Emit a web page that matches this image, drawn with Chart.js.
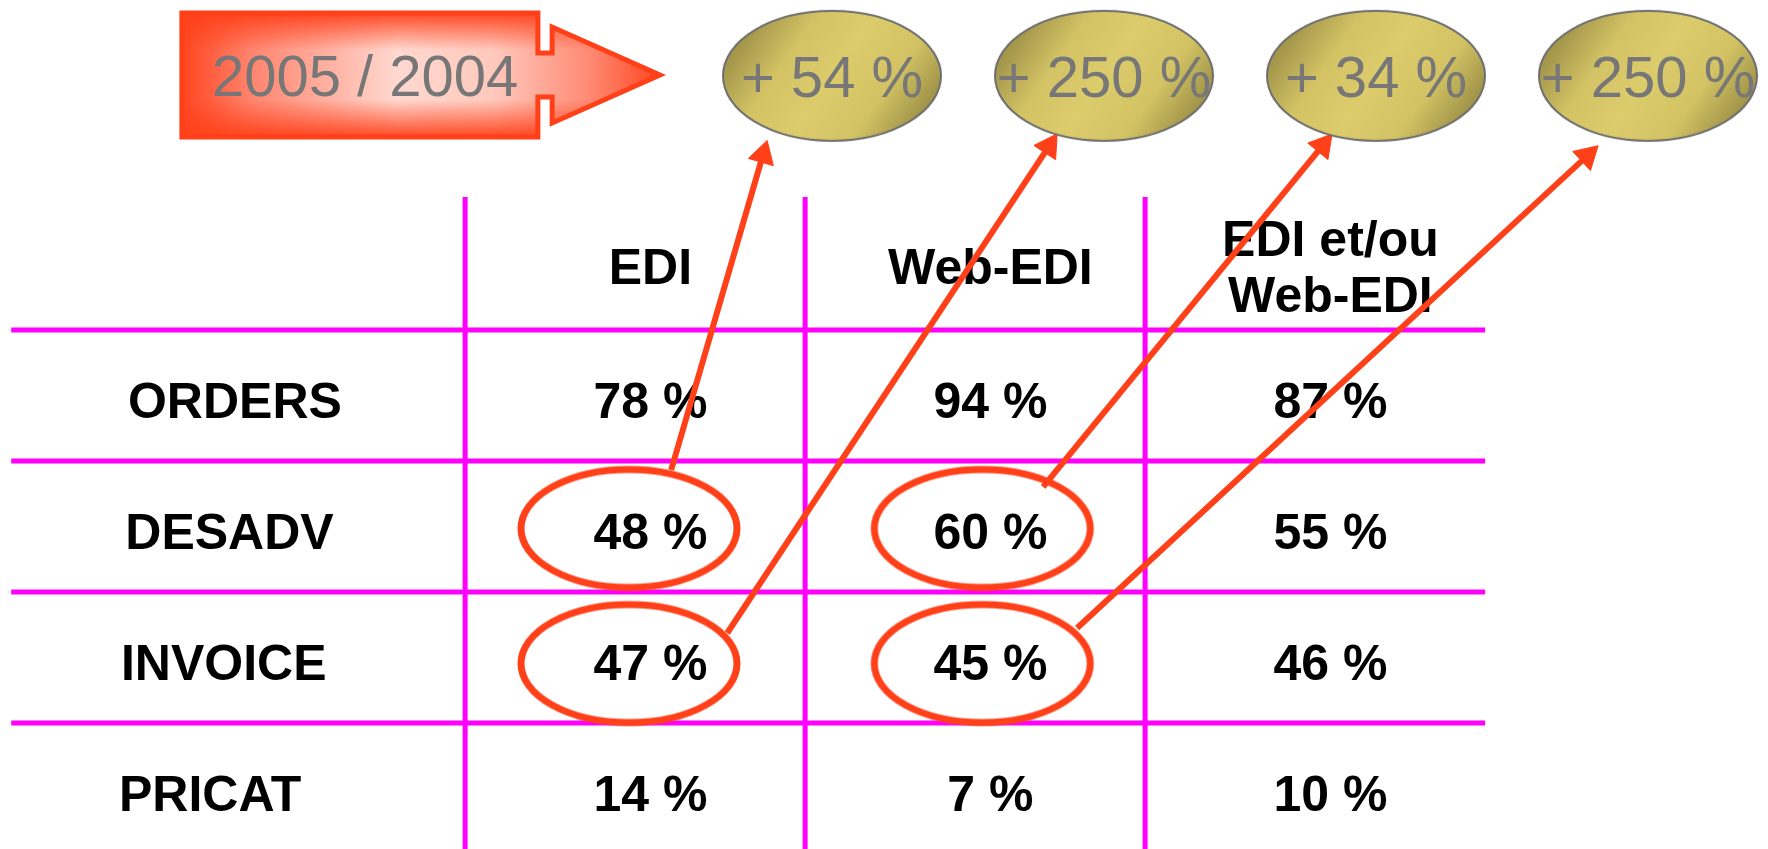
<!DOCTYPE html>
<html>
<head>
<meta charset="utf-8">
<script src="https://cdn.jsdelivr.net/npm/chart.js@4.4.1/dist/chart.umd.min.js"></script>
<style>
html, body { margin: 0; padding: 0; background: #fff; }
canvas { display: block; }
</style>
</head>
<body>
<canvas id="edi-canvas" width="1768" height="849"></canvas>
<script>
// table content
const columns = [['EDI'], ['Web-EDI'], ['EDI et/ou', 'Web-EDI']];
const messages = ['ORDERS', 'DESADV', 'INVOICE', 'PRICAT'];
const ediValues = [78, 48, 47, 14];
const webEdiValues = [94, 60, 45, 7];
const bothValues = [87, 55, 46, 10];

// growth 2005 / 2004, and the circled cell [row, column] each one comes from
const period = '2005 / 2004';
const growthValues = [54, 250, 34, 250];
const growthFrom = [[1, 0], [2, 0], [1, 1], [2, 1]];

// layout, in scale units (1 column = 1 unit on x, 1 row = 1 unit on y)
const X_MIN = -1.368, X_MAX = 3.832, Y_MIN = -1.519, Y_MAX = 4.962;
const colEdges = [0, 1, 2];
const rowEdges = [1, 2, 3, 4];
const tableLeft = -1.335, tableRight = 3, tableTop = -0.015;
const labelX = -0.71, textShift = 0.045;
const labelShift = [0.033, 0.017, 0, -0.04];
const ringShift = [[-0.018, 0.015], [-0.018, 0.046], [0.021, 0.015], [0.021, 0.046]];
const bubbleX0 = 1.079, bubbleStep = 0.8, bubbleY = -0.94;
const arrowTail = [[0.106, -0.431], [0.271, -0.187], [0.2, -0.302], [0.3, -0.225]];
const arrowHead = [[-0.203, 0.603], [-0.162, 0.538], [-0.157, 0.532], [-0.179, 0.611]];
const box = { x0: -0.833, x1: 0.214, x2: 0.256, tip: 0.573,
              y0: -1.42, y1: -0.473, s0: -1.114, s1: -0.779, h0: -1.313, h1: -0.58, mid: -0.946 };

const RED = '#FF4019';
const FONT = '"Liberation Sans", Arial, sans-serif';

function makeCanvas(w, h, draw) {
   const c = document.createElement('canvas');
   c.width = w; c.height = h;
   draw(c.getContext('2d'), w, h);
   return c;
}

const goldBubble = makeCanvas(224, 134, (g, w, h) => {
   const grad = g.createLinearGradient(15, 0, w - 15, h);
   grad.addColorStop(0, '#8A7E3D');
   grad.addColorStop(0.3, '#D3C365');
   grad.addColorStop(0.5, '#DCCC6C');
   grad.addColorStop(0.72, '#D3C364');
   grad.addColorStop(1, '#887C3B');
   g.beginPath();
   g.ellipse(w / 2, h / 2, 109, 65, 0, 0, Math.PI * 2);
   g.fillStyle = grad;
   g.fill();
   g.lineWidth = 2;
   g.strokeStyle = '#6F6F6F';
   g.stroke();
});

const redRing = makeCanvas(232, 138, (g, w, h) => {
   g.beginPath();
   g.ellipse(w / 2, h / 2, 108, 59, 0, 0, Math.PI * 2);
   g.lineWidth = 7;
   g.strokeStyle = RED;
   g.stroke();
});

function cellCenter(row, col) {
   return { x: col + 0.5, y: row + 1.5 };
}

function bubbleCenter(i) {
   return { x: bubbleX0 + i * bubbleStep, y: bubbleY };
}

// datasets: first in the list is drawn on top
let datasets = [];

datasets.push({
   data: growthValues.map((g, i) => bubbleCenter(i)),
   pointStyle: goldBubble,
   pointRadius: 10
});

growthFrom.forEach(([r, c], i) => {
   const from = cellCenter(r, c);
   const to = bubbleCenter(i);
   datasets.push({
      data: [
         { x: from.x + arrowTail[i][0], y: from.y + arrowTail[i][1] },
         { x: to.x + arrowHead[i][0], y: to.y + arrowHead[i][1] }
      ],
      showLine: true,
      borderColor: RED,
      borderWidth: 6,
      backgroundColor: RED,
      pointBorderColor: RED,
      pointBorderWidth: 1,
      pointStyle: 'triangle',
      pointRadius: (ctx) => ctx.dataIndex === 1 ? 15 : 0,
      pointRotation: (ctx) => {
         const d = ctx.dataset.data;
         const sx = ctx.chart.scales.x, sy = ctx.chart.scales.y;
         const dx = sx.getPixelForValue(d[1].x) - sx.getPixelForValue(d[0].x);
         const dy = sy.getPixelForValue(d[1].y) - sy.getPixelForValue(d[0].y);
         return Math.atan2(dx, -dy) * 180 / Math.PI;
      }
   });
});

datasets.push({
   data: growthFrom.map(([r, c], i) => {
      const p = cellCenter(r, c);
      return { x: p.x + ringShift[i][0], y: p.y + ringShift[i][1] };
   }),
   pointStyle: redRing,
   pointRadius: 10
});

for (const xe of colEdges) {
   datasets.push({ data: [{ x: xe, y: tableTop }, { x: xe, y: Y_MAX + 0.1 }],
      showLine: true, borderColor: '#FF00FF', borderWidth: 5, pointRadius: 0 });
}
for (const ye of rowEdges) {
   datasets.push({ data: [{ x: tableLeft, y: ye }, { x: tableRight, y: ye }],
      showLine: true, borderColor: '#FF00FF', borderWidth: 5, pointRadius: 0 });
}

// table text, under the arrows; period arrow and bubble text on top
const tableText = {
   id: 'tableText',
   beforeDatasetsDraw(chart) {
      const { ctx, scales: { x, y } } = chart;
      ctx.save();
      ctx.fillStyle = '#000';
      ctx.font = 'bold 50px ' + FONT;
      ctx.textAlign = 'center';
      ctx.textBaseline = 'alphabetic';

      columns.forEach((lines, c) => {
         const px = x.getPixelForValue(c + 0.5 + textShift);
         const py = y.getPixelForValue(0.5) + 2 + 18;
         const gap = 56;
         lines.forEach((t, k) => {
            ctx.fillText(t, px, py + (k - (lines.length - 1) / 2) * gap);
         });
      });

      const cols = [ediValues, webEdiValues, bothValues];
      messages.forEach((m, r) => {
         const py = y.getPixelForValue(r + 1.5) + 5 + 18;
         ctx.fillText(m, x.getPixelForValue(labelX + labelShift[r]), py);
         cols.forEach((vals, c) => {
            ctx.fillText(vals[r] + ' %', x.getPixelForValue(c + 0.5 + textShift), py);
         });
      });
      ctx.restore();
   },
   afterDatasetsDraw(chart) {
      const { ctx, scales: { x, y } } = chart;
      ctx.save();

      const pts = [
         [box.x0, box.y0], [box.x1, box.y0], [box.x1, box.s0], [box.x2, box.s0],
         [box.x2, box.h0], [box.tip, box.mid], [box.x2, box.h1], [box.x2, box.s1],
         [box.x1, box.s1], [box.x1, box.y1], [box.x0, box.y1]
      ].map(([a, b]) => [x.getPixelForValue(a), y.getPixelForValue(b)]);
      ctx.beginPath();
      pts.forEach(([a, b], i) => i ? ctx.lineTo(a, b) : ctx.moveTo(a, b));
      ctx.closePath();
      const left = pts[0][0], right = pts[5][0], top = pts[0][1], bottom = pts[9][1];
      const hg = ctx.createLinearGradient(left, 0, right, 0);
      hg.addColorStop(0, '#FF4520');
      hg.addColorStop(0.15, '#FF8670');
      hg.addColorStop(0.45, '#FFD8CF');
      hg.addColorStop(0.65, '#FFC9BD');
      hg.addColorStop(0.85, '#FF8B75');
      hg.addColorStop(1, '#FF4520');
      ctx.fillStyle = hg;
      ctx.fill();
      ctx.save();
      ctx.clip();
      const vg = ctx.createLinearGradient(0, top, 0, bottom);
      vg.addColorStop(0, 'rgba(255,64,25,0.95)');
      vg.addColorStop(0.3, 'rgba(255,64,25,0)');
      vg.addColorStop(0.7, 'rgba(255,64,25,0)');
      vg.addColorStop(1, 'rgba(255,64,25,0.95)');
      ctx.fillStyle = vg;
      ctx.fillRect(left, top, right - left, bottom - top);
      ctx.restore();
      ctx.lineWidth = 5;
      ctx.lineJoin = 'miter';
      ctx.strokeStyle = RED;
      ctx.stroke();

      ctx.fillStyle = '#777777';
      ctx.font = '58px ' + FONT;
      ctx.textAlign = 'center';
      ctx.textBaseline = 'alphabetic';
      ctx.fillText(period, x.getPixelForValue(-0.294), y.getPixelForValue(box.mid) + 21);

      growthValues.forEach((g, i) => {
         const b = bubbleCenter(i);
         ctx.fillText('+ ' + g + ' %', x.getPixelForValue(b.x), y.getPixelForValue(b.y) + 21);
      });
      ctx.restore();
   }
};

const chart = new Chart(document.getElementById('edi-canvas').getContext('2d'), {
   type: 'scatter',
   data: { datasets: datasets },
   options: {
      responsive: false,
      animation: false,
      events: [],
      layout: { padding: 0, autoPadding: false },
      plugins: { legend: { display: false }, tooltip: { enabled: false } },
      scales: {
         x: { type: 'linear', min: X_MIN, max: X_MAX, display: false },
         y: { type: 'linear', min: Y_MIN, max: Y_MAX, reverse: true, display: false }
      }
   },
   plugins: [tableText]
});
</script>
</body>
</html>
